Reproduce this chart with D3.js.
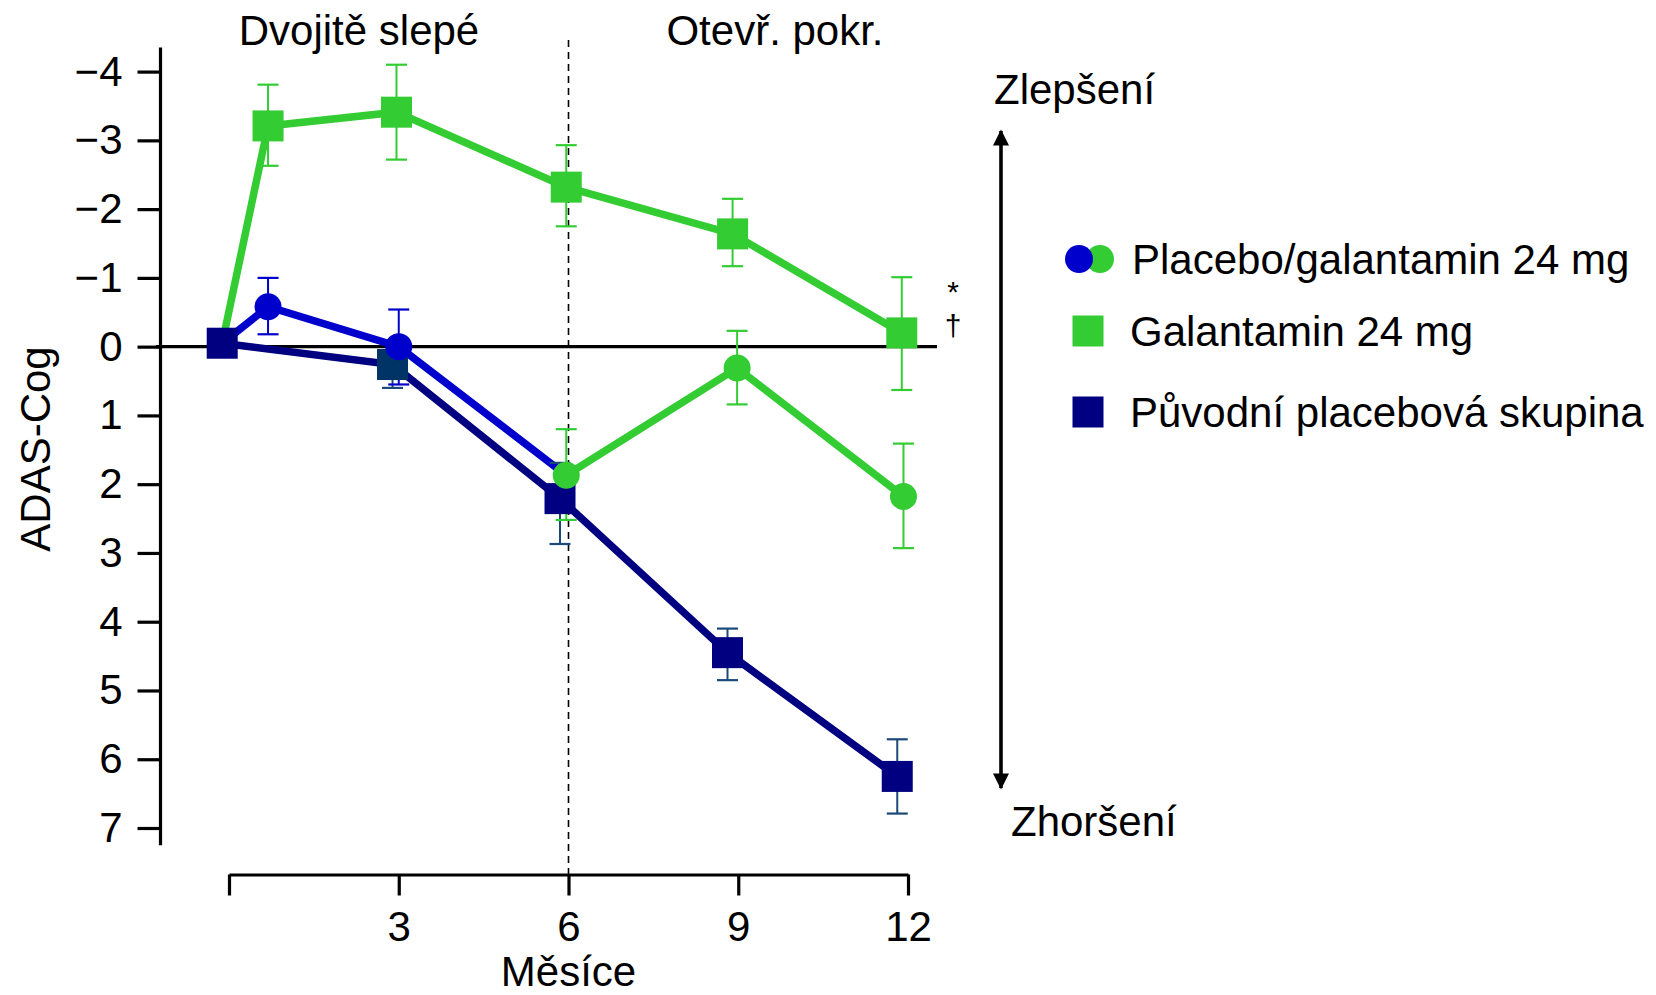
<!DOCTYPE html>
<html>
<head>
<meta charset="utf-8">
<script src="https://cdn.jsdelivr.net/npm/d3@7"></script>
<style>
  body { margin: 0; background: #fff; }
  svg text { font-family: "Liberation Sans", Arial, Helvetica, sans-serif; fill: #000; }
</style>
</head>
<body>
<svg id="chart"></svg>
<script>
// months on x, ADAS-Cog change on y (negative = improvement)
const galMonths = [-0.12, 0.69, 2.96, 5.96, 8.9, 11.89];
const galValues = [-0.05, -3.21, -3.41, -2.32, -1.64, -0.2];
const galErrLo = [null, -3.81, -4.1, -2.93, -2.15, -1.01];
const galErrHi = [null, -2.63, -2.72, -1.75, -1.17, 0.63];

const plgMonths = [-0.12, 0.69, 3.0, 5.96, 8.98, 11.92];
const plgValues = [-0.05, -0.58, 0.0, 1.87, 0.31, 2.18];
const plgErrLo = [null, -1.0, -0.54, 1.2, -0.23, 1.41];
const plgErrHi = [null, -0.18, 0.55, 2.52, 0.84, 2.93];
const plgSwitchIndex = 3; // blue until month 6, green after

const plaMonths = [-0.12, 2.89, 5.85, 8.81, 11.81];
const plaValues = [-0.05, 0.26, 2.21, 4.45, 6.25];
const plaErrLo = [null, 0.05, 1.69, 4.1, 5.71];
const plaErrHi = [null, 0.6, 2.87, 4.85, 6.79];

const xTicks = [0, 3, 6, 9, 12];
const yTicks = [-4, -3, -2, -1, 0, 1, 2, 3, 4, 5, 6, 7];

const legendItems = ["Placebo/galantamin 24 mg", "Galantamin 24 mg", "Původní placebová skupina"];

const green = "#33cc33";
const blue = "#0000cc";
const navy = "#000080";
const navyErr = "#1b4a7a";

const svgWidth = 1656;
const svgHeight = 995;
const fontSize = 42;

const svg = d3.select("#chart").attr("width", svgWidth).attr("height", svgHeight);

const x = d3.scaleLinear().domain([0, 12]).range([229, 908]);
const y = d3.scaleLinear().domain([-4, 7]).range([71.6, 828]);

// y axis
const yAxis = svg.append("g")
  .attr("transform", "translate(160.5,0)")
  .call(d3.axisLeft(y).tickValues(yTicks).tickSize(23).tickPadding(15).tickSizeOuter(0));
yAxis.select(".domain").remove();
yAxis.selectAll(".tick line").attr("stroke-width", 3.2);
yAxis.selectAll(".tick text").attr("font-size", fontSize).attr("font-family", null);
yAxis.append("line")
  .attr("y1", y(-4.35)).attr("y2", y(7.25))
  .attr("stroke", "#000").attr("stroke-width", 3.2);

// x axis
const xAxis = svg.append("g")
  .attr("transform", "translate(0,874.5)")
  .call(d3.axisBottom(x).tickValues(xTicks).tickSize(21).tickPadding(16).tickSizeOuter(0)
    .tickFormat(d => d === 0 ? "" : d));
xAxis.select(".domain").attr("stroke-width", 3.2);
xAxis.selectAll(".tick line").attr("stroke-width", 3.2);
xAxis.selectAll(".tick text").attr("font-size", fontSize).attr("font-family", null);

svg.append("text")
  .attr("transform", "translate(50,449) rotate(-90)")
  .attr("text-anchor", "middle")
  .attr("font-size", fontSize)
  .text("ADAS-Cog");

svg.append("text")
  .attr("x", x(6)).attr("y", 986)
  .attr("text-anchor", "middle")
  .attr("font-size", fontSize)
  .text("Měsíce");

svg.append("text").attr("x", 359).attr("y", 45).attr("text-anchor", "middle")
  .attr("font-size", fontSize).text("Dvojitě slepé");
svg.append("text").attr("x", 775).attr("y", 45).attr("text-anchor", "middle")
  .attr("font-size", fontSize).text("Otevř. pokr.");

// zero line and phase divider
svg.append("line")
  .attr("x1", 156).attr("x2", 937).attr("y1", y(0)).attr("y2", y(0))
  .attr("stroke", "#000").attr("stroke-width", 3.4);
svg.append("line")
  .attr("x1", x(6)).attr("x2", x(6)).attr("y1", 40).attr("y2", 874)
  .attr("stroke", "#000").attr("stroke-width", 1.6).attr("stroke-dasharray", "7,5");

const line = d3.line().x(d => x(d[0])).y(d => y(d[1]));
const zip = (ms, vs) => ms.map((m, i) => [m, vs[i]]);

const galPts = zip(galMonths, galValues);
const plgPts = zip(plgMonths, plgValues);
const plaPts = zip(plaMonths, plaValues);

const lineW = 7.5;
svg.append("path").attr("d", line(galPts)).attr("fill", "none").attr("stroke", green).attr("stroke-width", lineW);
svg.append("path").attr("d", line(plaPts)).attr("fill", "none").attr("stroke", navy).attr("stroke-width", lineW);
svg.append("path").attr("d", line(plgPts.slice(0, plgSwitchIndex + 1))).attr("fill", "none").attr("stroke", blue).attr("stroke-width", lineW);
svg.append("path").attr("d", line(plgPts.slice(plgSwitchIndex))).attr("fill", "none").attr("stroke", green).attr("stroke-width", lineW);

function errorBars(months, lo, hi, colorFn) {
  const g = svg.append("g");
  months.forEach((m, i) => {
    if (lo[i] === null) return;
    const c = colorFn(i);
    const cx = x(m);
    g.append("line").attr("x1", cx).attr("x2", cx).attr("y1", y(lo[i])).attr("y2", y(hi[i]))
      .attr("stroke", c).attr("stroke-width", 2);
    [lo[i], hi[i]].forEach(v => {
      g.append("line").attr("x1", cx - 10.5).attr("x2", cx + 10.5).attr("y1", y(v)).attr("y2", y(v))
        .attr("stroke", c).attr("stroke-width", 2.2);
    });
  });
}

errorBars(galMonths, galErrLo, galErrHi, () => green);
errorBars(plaMonths, plaErrLo, plaErrHi, () => navyErr);
errorBars(plgMonths, plgErrLo, plgErrHi, i => i < plgSwitchIndex ? blue : green);

const sq = 31;
svg.append("g").selectAll("rect")
  .data(galPts.slice(1))
  .join("rect")
  .attr("x", d => x(d[0]) - sq / 2).attr("y", d => y(d[1]) - sq / 2)
  .attr("width", sq).attr("height", sq).attr("fill", green);

svg.append("g").selectAll("rect")
  .data(plaPts)
  .join("rect")
  .attr("x", d => x(d[0]) - sq / 2).attr("y", d => y(d[1]) - sq / 2)
  .attr("width", sq).attr("height", sq)
  .attr("fill", (d, i) => i === 1 ? "#003366" : navy);

svg.append("g").selectAll("circle")
  .data(plgPts.slice(1))
  .join("circle")
  .attr("cx", d => x(d[0])).attr("cy", d => y(d[1]))
  .attr("r", 13.5)
  .attr("fill", (d, i) => i + 1 < plgSwitchIndex ? blue : green);

// significance marks
svg.append("text").attr("x", 953).attr("y", 302).attr("text-anchor", "middle")
  .attr("font-size", 30).text("*");
svg.append("text").attr("x", 953).attr("y", 336).attr("text-anchor", "middle")
  .attr("font-size", 30).text("†");

// improvement / worsening arrow
const defs = svg.append("defs");
defs.append("marker")
  .attr("id", "ah").attr("viewBox", "0 0 10 10")
  .attr("refX", 9).attr("refY", 5)
  .attr("markerWidth", 5).attr("markerHeight", 4.5)
  .attr("markerUnits", "strokeWidth")
  .attr("orient", "auto-start-reverse")
  .append("path").attr("d", "M0,0 L10,5 L0,10 Z").attr("fill", "#000");
svg.append("line")
  .attr("x1", 1001).attr("x2", 1001).attr("y1", 131).attr("y2", 788)
  .attr("stroke", "#000").attr("stroke-width", 3.6)
  .attr("marker-start", "url(#ah)").attr("marker-end", "url(#ah)");

svg.append("text").attr("x", 994).attr("y", 104).attr("font-size", fontSize).text("Zlepšení");
svg.append("text").attr("x", 1011).attr("y", 836).attr("font-size", fontSize).text("Zhoršení");

// legend
const legY = [259, 331, 412];
const legend = svg.append("g");
legend.append("circle").attr("cx", 1100).attr("cy", legY[0]).attr("r", 14).attr("fill", green);
legend.append("circle").attr("cx", 1079).attr("cy", legY[0]).attr("r", 14).attr("fill", blue);
legend.append("rect").attr("x", 1088 - sq / 2).attr("y", legY[1] - sq / 2).attr("width", sq).attr("height", sq).attr("fill", green);
legend.append("rect").attr("x", 1088 - sq / 2).attr("y", legY[2] - sq / 2).attr("width", sq).attr("height", sq).attr("fill", navy);
legend.selectAll("text")
  .data(legendItems)
  .join("text")
  .attr("x", (d, i) => i === 0 ? 1132 : 1130)
  .attr("y", (d, i) => legY[i])
  .attr("dy", "0.36em")
  .attr("font-size", fontSize)
  .text(d => d);
</script>
</body>
</html>
